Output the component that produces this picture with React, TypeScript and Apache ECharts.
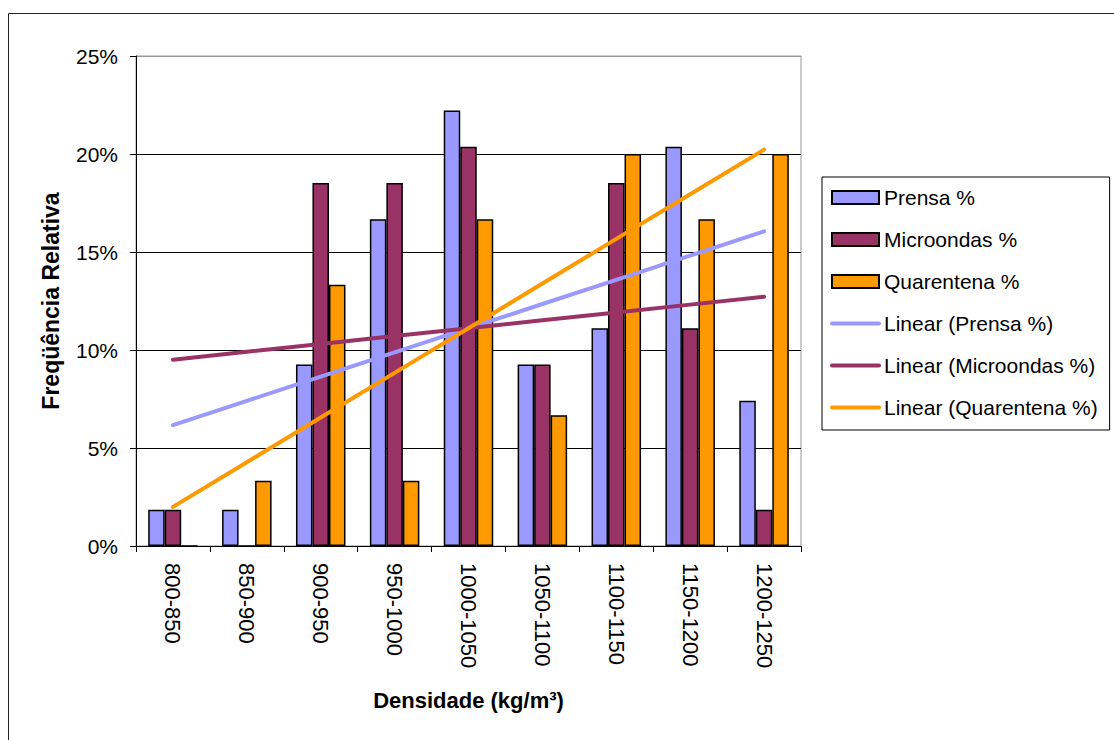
import React, { useEffect, useRef } from "react";
import * as echarts from "echarts";

const categories = ["800-850", "850-900", "900-950", "950-1000", "1000-1050", "1050-1100", "1100-1150", "1150-1200", "1200-1250"];
const prensa = [1.85, 1.85, 9.26, 16.67, 22.22, 9.26, 11.11, 20.37, 7.41];
const microondas = [1.85, 0, 18.52, 18.52, 20.37, 9.26, 18.52, 11.11, 1.85];
const quarentena = [0, 3.33, 13.33, 3.33, 16.67, 6.67, 20.0, 16.67, 20.0];
const seriesNames = ["Prensa %", "Microondas %", "Quarentena %"];
const trendNames = ["Linear (Prensa %)", "Linear (Microondas %)", "Linear (Quarentena %)"];
const colors = ["#9999FF", "#993366", "#FF9900"];

// least-squares linear trendline (as Excel's "Linear" trendline)
function trend(values: number[]): number[] {
  const n = values.length;
  const xs = values.map((_, i) => i + 1);
  const mx = xs.reduce((a, b) => a + b, 0) / n;
  const my = values.reduce((a, b) => a + b, 0) / n;
  let sxy = 0;
  let sxx = 0;
  for (let i = 0; i < n; i++) {
    sxy += (xs[i] - mx) * (values[i] - my);
    sxx += (xs[i] - mx) * (xs[i] - mx);
  }
  const b = sxy / sxx;
  const a = my - b * mx;
  return xs.map((x) => a + b * x);
}

const FONT = "'Liberation Sans', Arial, sans-serif";

export default function App() {
  const ref = useRef<HTMLDivElement>(null);
  useEffect(() => {
    if (!ref.current) return;
    const chart = echarts.init(ref.current, undefined, { renderer: "svg" });
    const barData = [prensa, microondas, quarentena];
    const bars = barData.map((d, i) => ({
      name: seriesNames[i],
      type: "bar",
      data: d,
      barGap: "0%",
      barCategoryGap: "33%",
      itemStyle: { color: colors[i], borderColor: "#000", borderWidth: 1.5 },
    }));
    const lines = barData.map((d, i) => ({
      name: trendNames[i],
      type: "line",
      data: trend(d),
      symbol: "none",
      showSymbol: false,
      lineStyle: { color: colors[i], width: 4, cap: "round" },
      itemStyle: { color: colors[i] },
      z: 5,
    }));
    chart.setOption({
      animation: false,
      textStyle: { fontFamily: FONT, color: "#000" },
      graphic: [
        {
          type: "rect",
          shape: { x: 8.5, y: 13.5, width: 1300, height: 1000 },
          style: { fill: "none", stroke: "#222", lineWidth: 1 },
          silent: true,
        },
      ],
      grid: {
        left: 136,
        top: 56,
        right: 313,
        bottom: 194,
        show: true,
        borderColor: "#999",
        borderWidth: 1,
        outerBoundsMode: "none",
      },
      legend: {
        orient: "vertical",
        left: 822,
        top: 177,
        padding: [10, 12, 12, 8],
        borderColor: "#000",
        borderWidth: 1,
        itemWidth: 47,
        itemHeight: 13,
        itemGap: 21,
        textStyle: { fontSize: 21, color: "#000", fontFamily: FONT, lineHeight: 20 },
        data: [
          ...seriesNames.map((n) => ({ name: n, icon: "rect" })),
          ...trendNames.map((n, i) => ({
            name: n,
            itemStyle: { opacity: 0 },
            lineStyle: { color: colors[i], width: 4, opacity: 1, cap: "round" },
          })),
        ],
      },
      xAxis: {
        type: "category",
        data: categories,
        axisLine: { lineStyle: { color: "#000", width: 1 } },
        axisTick: { show: true, length: 6, lineStyle: { color: "#000" } },
        axisLabel: { rotate: -90, margin: 17, fontSize: 22, color: "#000", fontFamily: FONT },
        name: "Densidade (kg/m³)",
        nameLocation: "middle",
        nameGap: 143,
        nameTextStyle: { fontSize: 22, fontWeight: "bold", color: "#000", fontFamily: FONT },
      },
      yAxis: {
        type: "value",
        min: 0,
        max: 25,
        interval: 5,
        axisLine: { show: true, lineStyle: { color: "#000", width: 1 } },
        axisTick: { show: true, length: 6, lineStyle: { color: "#000" } },
        axisLabel: { formatter: "{value}%", margin: 18, fontSize: 21, color: "#000", fontFamily: FONT },
        splitLine: {
          show: true,
          lineStyle: { color: ["#000", "#000", "#000", "#000", "#000", "#999"], width: 1 },
        },
        name: "Freqüência Relativa",
        nameLocation: "middle",
        nameGap: 74,
        nameTextStyle: { fontSize: 23, fontWeight: "bold", color: "#000", fontFamily: FONT },
      },
      series: [...bars, ...lines],
    });
    return () => chart.dispose();
  }, []);
  return (
    <div
      ref={ref}
      style={{ position: "fixed", left: 0, top: 0, width: 1114, height: 740, background: "#fff" }}
    />
  );
}
